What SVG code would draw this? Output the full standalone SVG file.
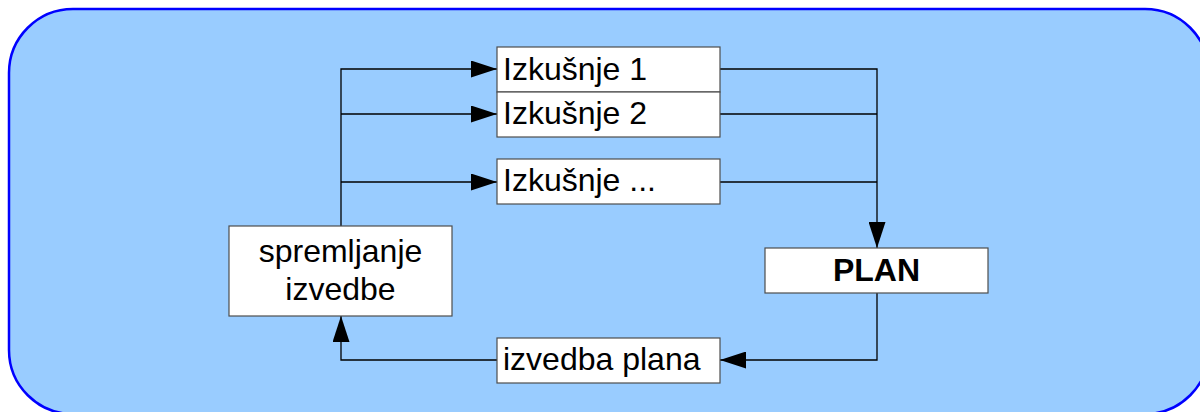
<svg xmlns="http://www.w3.org/2000/svg" width="1200" height="412" viewBox="0 0 1200 412">
  <style>
    .box { fill: #ffffff; stroke: #4d4d4d; stroke-width: 1.2; }
    .lbl { font-family: "Liberation Sans", Arial, sans-serif; font-size: 32px; fill: #000000; }
    .bold { font-weight: bold; }
    .wire { fill: none; stroke: #000000; stroke-width: 1.3; }
  </style>
  <defs>
    <marker id="arrow" viewBox="0 0 26 17" refX="26" refY="8.5" markerWidth="26" markerHeight="17" markerUnits="userSpaceOnUse" orient="auto">
      <path d="M0,0 L26,8.5 L0,17 Z" fill="#000000"/>
    </marker>
  </defs>

  <!-- frame -->
  <rect x="9" y="9" width="1200" height="405" rx="64" ry="64" fill="#99ccff" stroke="#0000ff" stroke-width="2.5"/>

  <!-- connectors -->
  <g id="connectors">
    <path class="wire" d="M341,226 V69 H497" marker-end="url(#arrow)"/>
    <path class="wire" d="M341,114 H497" marker-end="url(#arrow)"/>
    <path class="wire" d="M341,182 H497" marker-end="url(#arrow)"/>
    <path class="wire" d="M720,69 H877 V248" marker-end="url(#arrow)"/>
    <path class="wire" d="M720,114 H877"/>
    <path class="wire" d="M720,182 H877"/>
    <path class="wire" d="M877,293 V360 H720" marker-end="url(#arrow)"/>
    <path class="wire" d="M497,360 H341 V316" marker-end="url(#arrow)"/>
  </g>

  <g id="izkusnje1">
    <rect class="box" x="497" y="47" width="223" height="45"/>
    <text class="lbl" x="503" y="80">Izkušnje 1</text>
  </g>
  <g id="izkusnje2">
    <rect class="box" x="497" y="92" width="223" height="45"/>
    <text class="lbl" x="503" y="124">Izkušnje 2</text>
  </g>
  <g id="izkusnje3">
    <rect class="box" x="497" y="159" width="223" height="45"/>
    <text class="lbl" x="503" y="191">Izkušnje ...</text>
  </g>
  <g id="plan">
    <rect class="box" x="765" y="248" width="223" height="45"/>
    <text class="lbl bold" x="876.5" y="281" text-anchor="middle">PLAN</text>
  </g>
  <g id="spremljanje">
    <rect class="box" x="229" y="226" width="223" height="90"/>
    <text class="lbl" x="340.5" y="262" text-anchor="middle">spremljanje</text>
    <text class="lbl" x="340.5" y="300" text-anchor="middle">izvedbe</text>
  </g>
  <g id="izvedba">
    <rect class="box" x="497" y="338" width="223" height="45"/>
    <text class="lbl" x="503" y="370">izvedba plana</text>
  </g>
</svg>
